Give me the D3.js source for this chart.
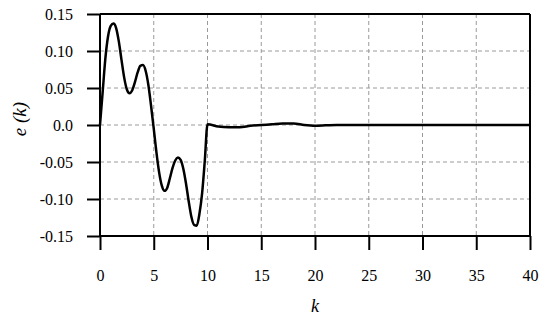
<!DOCTYPE html>
<html>
<head>
<meta charset="utf-8">
<script src="https://cdn.jsdelivr.net/npm/d3@7"></script>
<style>
    body { margin: 0; background: #fff; }
    .axis path, .axis line { stroke: #000; stroke-width: 2; }
    .grid line { stroke: #9a9a9a; stroke-width: 1; stroke-dasharray: 4,3; }
</style>
</head>
<body>
<div id="chart"></div>
<script>

// error signal e(k)
let kValues = [0, 0.25, 0.5, 0.75, 1.0, 1.25, 1.5, 1.75, 2.0, 2.25, 2.5, 2.75, 3.0, 3.25, 3.5, 3.75,
    4.0, 4.25, 4.5, 4.75, 5.0, 5.25, 5.5, 5.75, 6.0, 6.25, 6.5, 6.75, 7.0, 7.25, 7.5, 7.75,
    8.0, 8.25, 8.5, 8.75, 9.0, 9.25, 9.5, 9.75, 10.0,
    11, 12, 13, 14, 15, 16, 17, 18, 19, 20, 21, 22, 25, 30, 35, 40];
let eValues = [0, 0.045, 0.09, 0.12, 0.134, 0.137, 0.131, 0.113, 0.088, 0.064, 0.048, 0.043, 0.047, 0.058, 0.071, 0.080,
    0.081, 0.073, 0.054, 0.026, -0.005, -0.037, -0.064, -0.082, -0.089, -0.085, -0.072, -0.058, -0.048, -0.044, -0.047, -0.059,
    -0.079, -0.103, -0.124, -0.135, -0.136, -0.12, -0.092, -0.048, 0.001,
    -0.002, -0.003, -0.003, -0.001, 0.0, 0.001, 0.002, 0.002, 0.0, -0.001, -0.0005, 0, 0, 0, 0, 0];

let xTicks = [0, 5, 10, 15, 20, 25, 30, 35, 40];
let yTicks = [0.15, 0.10, 0.05, 0.0, -0.05, -0.10, -0.15];
let yTickLabels = ["0.15", "0.10", "0.05", "0.0", "-0.05", "-0.10", "-0.15"];

let data = kValues.map((k, i) => ({k: k, e: eValues[i]}));

let margin = {top: 14, right: 20, bottom: 88, left: 100};
let width = 550 - margin.left - margin.right;
let height = 324 - margin.top - margin.bottom;

let svg = d3.select("#chart").append("svg")
    .attr("width", 550)
    .attr("height", 324)
    .append("g")
    .attr("transform", "translate(" + margin.left + "," + margin.top + ")");

let x = d3.scaleLinear().domain([0, 40]).range([0, width]);
let y = d3.scaleLinear().domain([-0.15, 0.15]).range([height, 0]);

// dashed grid
svg.append("g")
    .attr("class", "grid")
    .selectAll("line.v")
    .data(xTicks.slice(1, -1))
    .enter().append("line")
    .attr("x1", d => x(d)).attr("x2", d => x(d))
    .attr("y1", 0).attr("y2", height);

svg.append("g")
    .attr("class", "grid")
    .selectAll("line.h")
    .data(yTicks.slice(1, -1))
    .enter().append("line")
    .attr("x1", 0).attr("x2", width)
    .attr("y1", d => y(d)).attr("y2", d => y(d));

// frame top and right
svg.append("line")
    .attr("x1", 0).attr("x2", width).attr("y1", 0).attr("y2", 0)
    .attr("stroke", "#000").attr("stroke-width", 2);
svg.append("line")
    .attr("x1", width).attr("x2", width).attr("y1", 0).attr("y2", height)
    .attr("stroke", "#000").attr("stroke-width", 2);

// axes
let xAxis = d3.axisBottom(x).tickValues(xTicks).tickSize(14).tickPadding(20)
    .tickFormat(d3.format("d"));
let yAxis = d3.axisLeft(y).tickValues(yTicks).tickSize(13).tickPadding(14)
    .tickFormat((d, i) => yTickLabels[i]);

svg.append("g")
    .attr("class", "axis")
    .attr("transform", "translate(0," + height + ")")
    .call(xAxis)
    .attr("font-family", "Liberation Serif")
    .attr("font-size", 16)
    .call(g => g.select(".domain").attr("d", "M0,0H" + width));

svg.append("g")
    .attr("class", "axis")
    .call(yAxis)
    .attr("font-family", "Liberation Serif")
    .attr("font-size", 16)
    .call(g => g.select(".domain").attr("d", "M0," + height + "V0"));

// the curve
let line = d3.line()
    .curve(d3.curveMonotoneX)
    .x(d => x(d.k))
    .y(d => y(d.e));

svg.append("path")
    .datum(data)
    .attr("fill", "none")
    .attr("stroke", "#000")
    .attr("stroke-width", 2.5)
    .attr("d", line);

// axis titles
svg.append("text")
    .attr("x", x(20))
    .attr("y", height + 76)
    .attr("text-anchor", "middle")
    .attr("font-family", "Liberation Serif")
    .attr("font-style", "italic")
    .attr("font-size", 18)
    .text("k");

svg.append("text")
    .attr("transform", "translate(-74," + y(0.008) + ") rotate(-90)")
    .attr("text-anchor", "middle")
    .attr("font-family", "Liberation Serif")
    .attr("font-style", "italic")
    .attr("font-size", 19)
    .text("e (k)");

</script>
</body>
</html>
